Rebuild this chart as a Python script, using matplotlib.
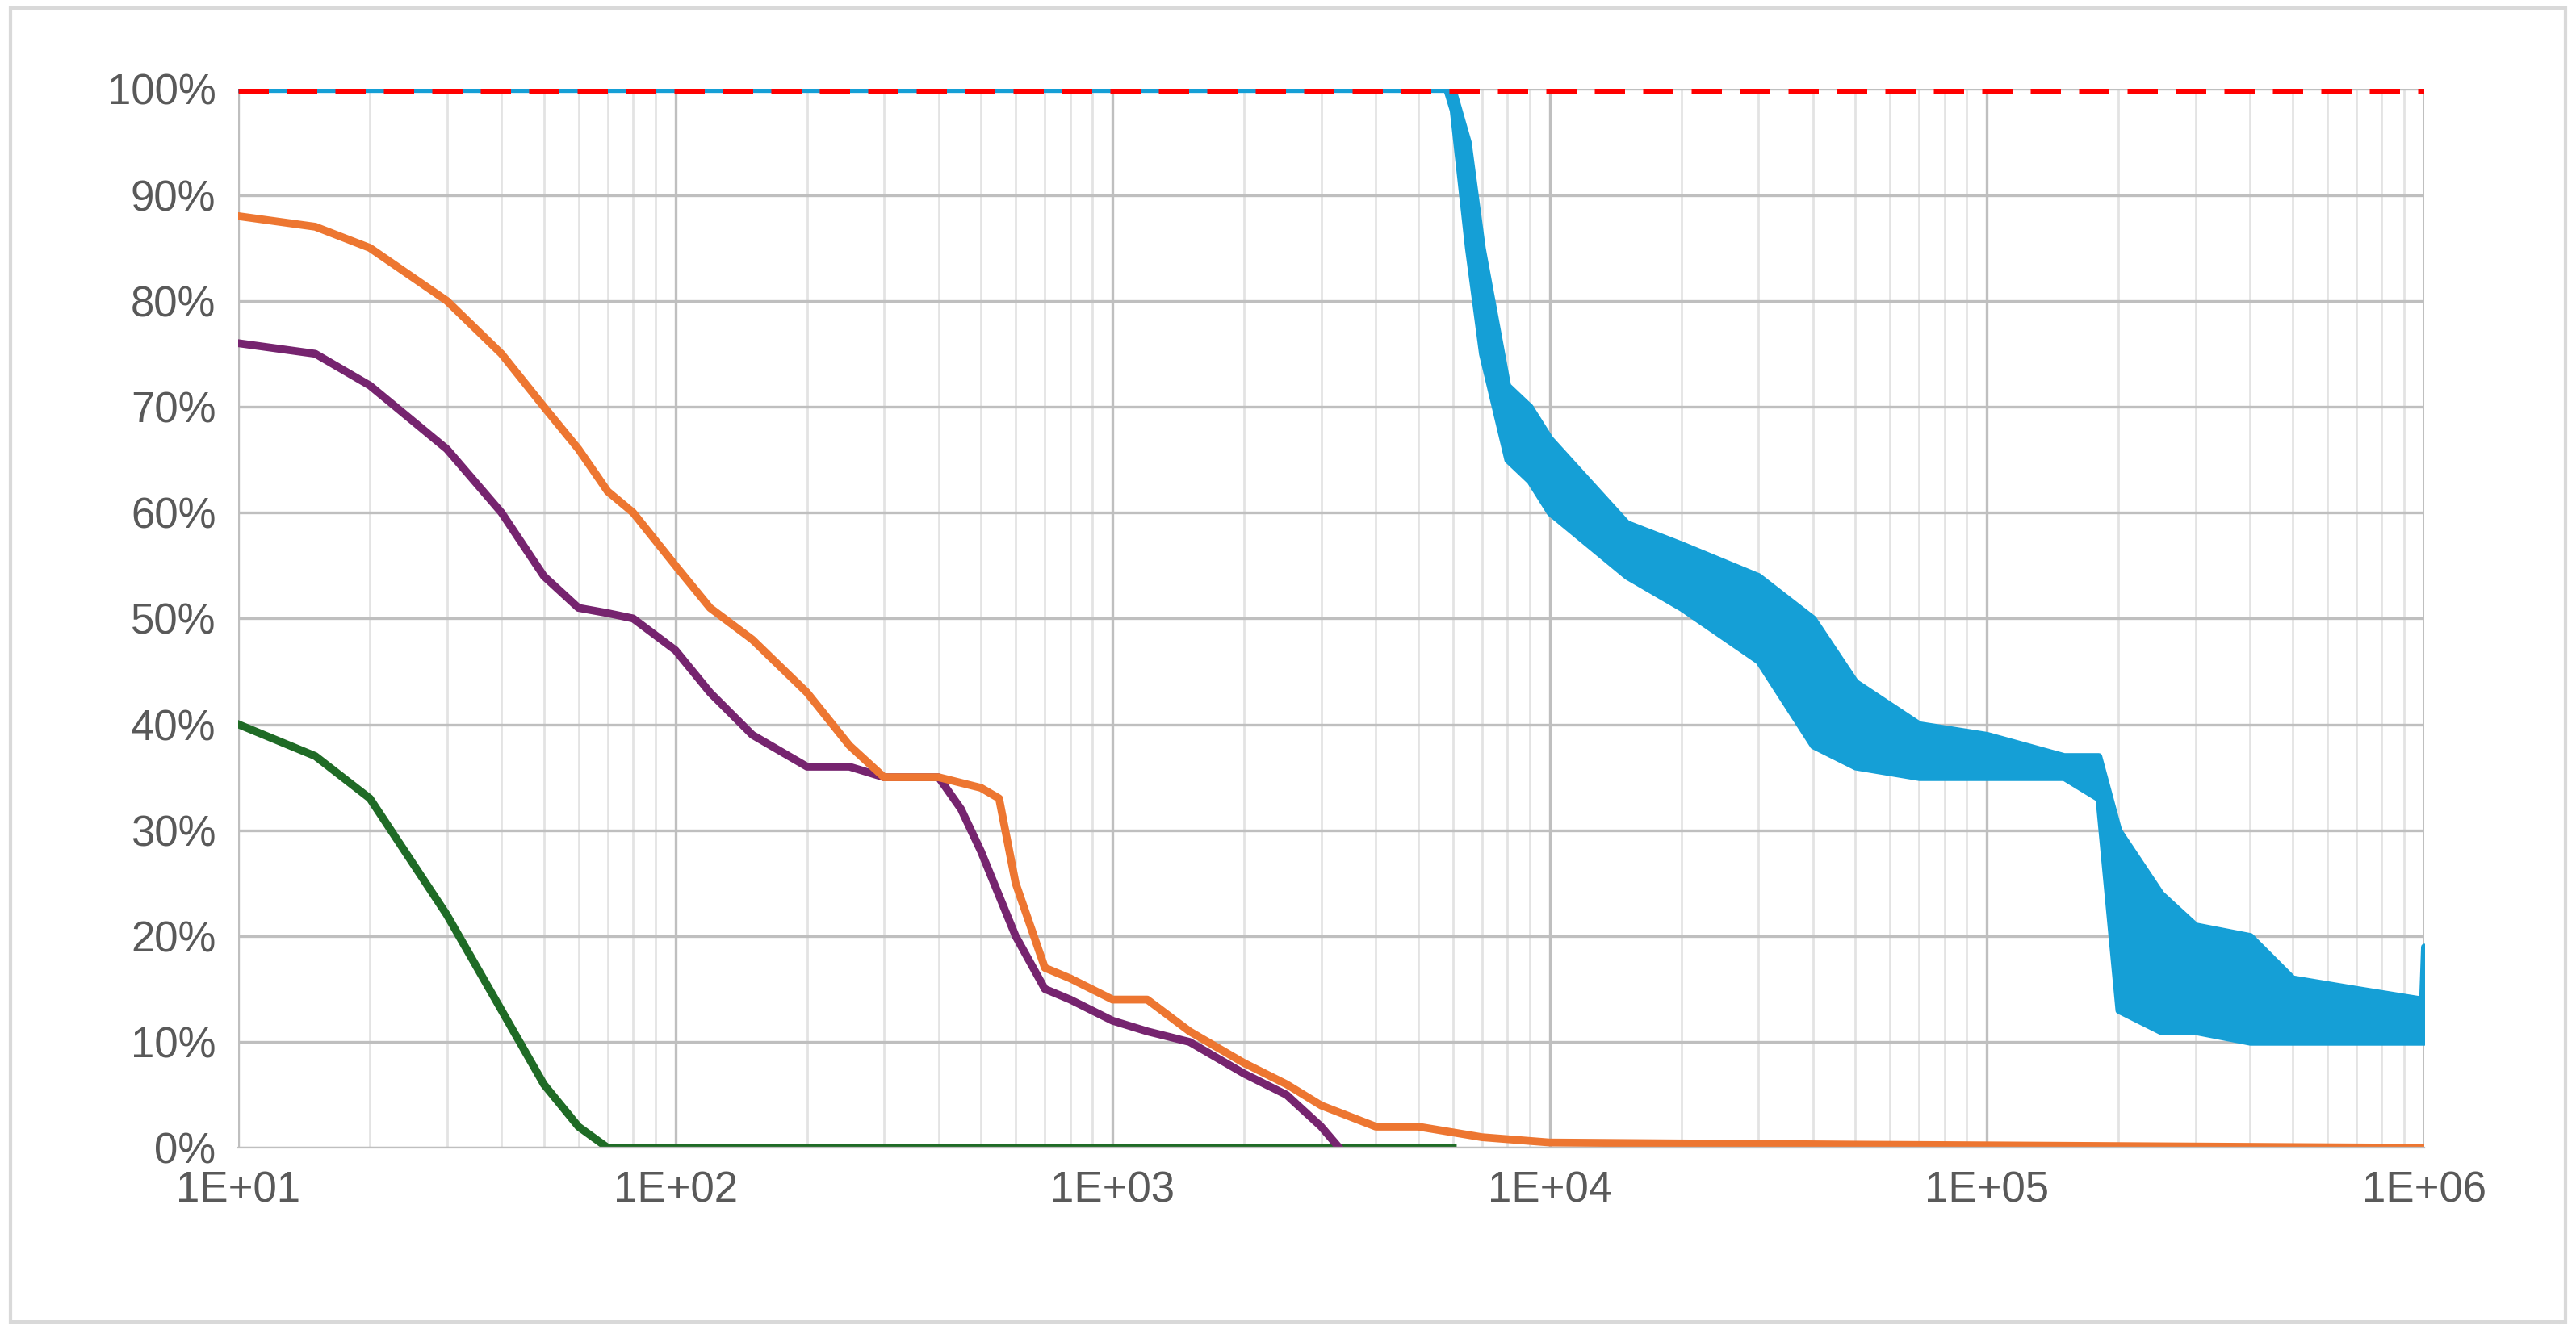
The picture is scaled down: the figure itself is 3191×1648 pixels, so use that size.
import math
import matplotlib.pyplot as plt
from matplotlib.ticker import FuncFormatter, LogLocator, NullFormatter
import matplotlib.patches as patches

# blue series: noisy band (upper / lower envelope)
blue_x = [10, 1000, 5800, 6000, 6500, 7000, 8000, 9000, 1e4, 1.5e4, 2e4, 3e4, 4e4, 5e4,
          7e4, 1e5, 1.5e5, 1.8e5, 2e5, 2.5e5, 3e5, 4e5, 5e5, 7e5, 9.9e5, 1e6]
blue_hi = [100, 100, 100, 100, 95, 85, 72, 70, 67, 59, 57, 54, 50, 44,
           40, 39, 37, 37, 30, 24, 21, 20, 16, 15, 14, 19]
blue_lo = [100, 100, 100, 98, 85, 75, 65, 63, 60, 54, 51, 46, 38, 36,
           35, 35, 35, 33, 13, 11, 11, 10, 10, 10, 10, 10]

orange_x = [10, 15, 20, 30, 40, 50, 60, 70, 80, 100, 120, 150, 200, 250, 300, 400,
            500, 550, 600, 700, 800, 1000, 1200, 1500, 2000, 2500, 3000, 4000, 5000,
            7000, 1e4, 5e4, 1e6]
orange_y = [88, 87, 85, 80, 75, 70, 66, 62, 60, 55, 51, 48, 43, 38, 35, 35,
            34, 33, 25, 17, 16, 14, 14, 11, 8, 6, 4, 2, 2, 1, 0.5, 0.3, 0]

purple_x = [10, 15, 20, 30, 40, 50, 60, 70, 80, 100, 120, 150, 200, 250, 300, 400,
            450, 500, 600, 700, 800, 1000, 1200, 1500, 2000, 2500, 3000, 3300]
purple_y = [76, 75, 72, 66, 60, 54, 51, 50.5, 50, 47, 43, 39, 36, 36, 35, 35,
            32, 28, 20, 15, 14, 12, 11, 10, 7, 5, 2, 0]

green_x = [10, 15, 20, 30, 40, 50, 60, 70, 100, 1000, 6000]
green_y = [40, 37, 33, 22, 13, 6, 2, 0, 0, 0, 0]

red_x = [10, 1e6]
red_y = [100, 100]

fig = plt.figure(figsize=(15.955, 8.24), dpi=200)
fig.patches.append(patches.Rectangle((0.004, 0.006), 0.992, 0.988, transform=fig.transFigure,
                                     fill=False, edgecolor="#d9d9d9", linewidth=1.5))
ax = fig.add_axes([0.0925, 0.137, 0.8485, 0.796])

ax.fill_between(blue_x, blue_lo, blue_hi, color="#159fd6", linewidth=3, edgecolor="#159fd6")
ax.plot(green_x, green_y, color="#1f6b26", linewidth=3.5)
ax.plot(purple_x, purple_y, color="#76246f", linewidth=3.5)
ax.plot(orange_x, orange_y, color="#ed7631", linewidth=3.5)
ax.plot(red_x, red_y, color="#ff0000", linewidth=4.5, linestyle=(0, (3, 1.8)))

ax.set_xscale("log")
ax.set_xlim(10, 1e6)
ax.set_ylim(0, 100)
ax.set_yticks(range(0, 101, 10))
ax.yaxis.set_major_formatter(FuncFormatter(lambda v, p: "%d%%" % v))
ax.xaxis.set_major_formatter(FuncFormatter(lambda v, p: "1E+%02d" % round(math.log10(v))))
ax.xaxis.set_minor_locator(LogLocator(base=10, subs=range(2, 10)))
ax.xaxis.set_minor_formatter(NullFormatter())

ax.grid(True, which="major", color="#bfbfbf", linewidth=1.2)
ax.grid(True, which="minor", axis="x", color="#e3e3e3", linewidth=1.0)
ax.set_axisbelow(True)
for s in ["top", "right", "left"]:
    ax.spines[s].set_visible(False)
ax.spines["bottom"].set_color("#bfbfbf")
ax.tick_params(which="both", length=0, labelsize=19, labelcolor="#595959", pad=10)
for lab in ax.get_xticklabels() + ax.get_yticklabels():
    lab.set_fontfamily("Liberation Sans")

fig.savefig("out.png", dpi=200)
